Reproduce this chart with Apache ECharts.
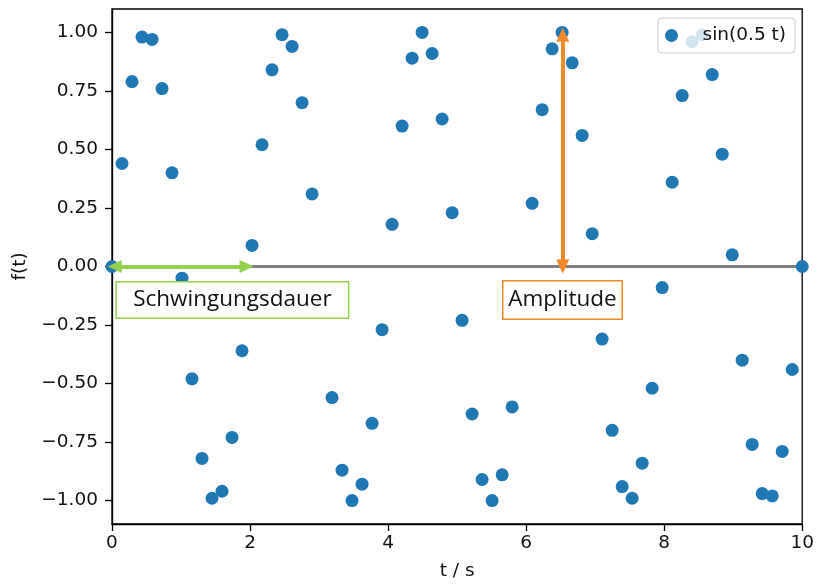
<!DOCTYPE html>
<html>
<head>
<meta charset="utf-8">
<script src="https://cdn.jsdelivr.net/npm/echarts@6/dist/echarts.min.js"></script>
<style>
  html, body { margin: 0; padding: 0; background: #fff; }
  #chart { width: 817px; height: 586px; }
</style>
</head>
<body>
<div id="chart"></div>
<script>
// Sample times (s) and measured values f(t)
const tValues = [
  0, 0.145, 0.290, 0.435, 0.580, 0.725, 0.870, 1.014, 1.159, 1.304,
  1.449, 1.594, 1.739, 1.884, 2.029, 2.174, 2.319, 2.464, 2.609, 2.754,
  2.899, 3.043, 3.188, 3.333, 3.478, 3.623, 3.768, 3.913, 4.058, 4.203,
  4.348, 4.493, 4.638, 4.783, 4.928, 5.072, 5.217, 5.362, 5.507, 5.652,
  5.797, 5.942, 6.087, 6.232, 6.377, 6.522, 6.667, 6.812, 6.957, 7.101,
  7.246, 7.391, 7.536, 7.681, 7.826, 7.971, 8.116, 8.261, 8.406, 8.551,
  8.696, 8.841, 8.986, 9.130, 9.275, 9.420, 9.565, 9.710, 9.855, 10
];
const fValues = [
  0, 0.44, 0.79, 0.98, 0.97, 0.76, 0.40, -0.05, -0.48, -0.82,
  -0.99, -0.96, -0.73, -0.36, 0.09, 0.52, 0.84, 0.99, 0.94, 0.70,
  0.31, -0.14, -0.56, -0.87, -1.00, -0.93, -0.67, -0.27, 0.18, 0.60,
  0.89, 1.00, 0.91, 0.63, 0.23, -0.23, -0.63, -0.91, -1.00, -0.89,
  -0.60, -0.18, 0.27, 0.67, 0.93, 1.00, 0.87, 0.56, 0.14, -0.31,
  -0.70, -0.94, -0.99, -0.84, -0.52, -0.09, 0.36, 0.73, 0.96, 0.99,
  0.82, 0.48, 0.05, -0.40, -0.76, -0.97, -0.98, -0.79, -0.44, 0
];
const seriesName = 'sin(0.5 t)';

// Axis ticks
const xTicks = [0, 2, 4, 6, 8, 10];
const yTicks = [-1.00, -0.75, -0.50, -0.25, 0.00, 0.25, 0.50, 0.75, 1.00];

// Annotations (data coordinates)
const zeroLine = [[0, 0], [10, 0]];
const periodArrow = [[0.04, 0], [1.95, 0]];
const amplitudeArrow = [[6.53, 0], [6.53, 0.99]];
const periodLabel = { text: 'Schwingungsdauer', at: [1.744, -0.143] };
const amplitudeLabel = { text: 'Amplitude', at: [6.527, -0.143] };

const TICK_FONT = 'DejaVu Sans';
const NOTE_FONT = 'Open Sans';
const GREEN = '#92d050';
const ORANGE = '#f28a2c';

const fmtTick = v => (v < 0 ? '\u2212' : '') + Math.abs(v).toFixed(2);

function arrowSeries(points, color) {
  return {
    type: 'line',
    data: [],
    silent: true,
    z: 5,
    markLine: {
      silent: true,
      animation: false,
      symbol: ['triangle', 'triangle'],
      symbolSize: [13, 14],
      label: { show: false },
      lineStyle: { color: color, width: 4, type: 'solid' },
      data: [[{ coord: points[0] }, { coord: points[1] }]]
    }
  };
}

// Boxed text note anchored at a data coordinate
function noteSeries(note, color, boxW, boxH) {
  return {
    type: 'scatter',
    data: [note.at],
    symbolSize: 1,
    itemStyle: { color: 'rgba(0,0,0,0)', opacity: 1 },
    silent: true,
    z: 6,
    label: {
      show: true,
      position: 'inside',
      formatter: note.text,
      fontFamily: NOTE_FONT,
      fontSize: 22.5,
      color: '#111',
      opacity: 1,
      backgroundColor: '#fff',
      borderColor: color,
      borderWidth: 1.5,
      width: boxW,
      height: boxH,
      lineHeight: boxH,
      align: 'center',
      verticalAlign: 'middle',
      padding: 0
    }
  };
}

const chart = echarts.init(document.getElementById('chart'), null, { renderer: 'canvas' });

chart.setOption({
  animation: false,
  backgroundColor: '#fff',
  grid: {
    left: 112, right: 13, top: 9, bottom: 61,
    show: true, borderColor: '#000', borderWidth: 1.3, backgroundColor: 'transparent'
  },
  legend: {
    data: [seriesName],
    right: 22, top: 18,
    orient: 'horizontal',
    icon: 'circle',
    itemWidth: 36, itemHeight: 13,
    padding: [8, 9, 8, 7],
    backgroundColor: 'rgba(255,255,255,0.8)',
    borderColor: '#cccccc', borderWidth: 1, borderRadius: 4,
    textStyle: { fontFamily: TICK_FONT, fontSize: 18.5, color: '#111', padding: [0, 0, 0, 8] },
    selectedMode: false
  },
  xAxis: {
    type: 'value',
    min: 0, max: 10, interval: 2,
    name: 't / s', nameLocation: 'middle', nameGap: 38,
    nameTextStyle: { fontFamily: TICK_FONT, fontSize: 18.5, color: '#111' },
    axisLine: { show: true, onZero: false, lineStyle: { color: '#000', width: 1.3 } },
    axisTick: { show: true, inside: false, length: 7, lineStyle: { color: '#000', width: 1.3 },
                customValues: xTicks },
    axisLabel: { fontFamily: TICK_FONT, fontSize: 18.5, color: '#111', margin: 10,
                 customValues: xTicks, formatter: v => String(v) },
    splitLine: { show: false }
  },
  yAxis: {
    type: 'value',
    min: -1.1, max: 1.1,
    name: 'f(t)', nameLocation: 'middle', nameGap: 82, nameRotate: 90,
    nameTextStyle: { fontFamily: TICK_FONT, fontSize: 18.5, color: '#111' },
    axisLine: { show: true, onZero: false, lineStyle: { color: '#000', width: 1.3 } },
    axisTick: { show: true, inside: false, length: 7, lineStyle: { color: '#000', width: 1.3 },
                customValues: yTicks },
    axisLabel: { fontFamily: TICK_FONT, fontSize: 18.5, color: '#111', margin: 14,
                 customValues: yTicks, formatter: fmtTick },
    splitLine: { show: false }
  },
  series: [
    {
      name: 'zero',
      type: 'line',
      data: zeroLine,
      symbol: 'none',
      silent: true,
      lineStyle: { color: '#808080', width: 3 },
      z: 1
    },
    {
      name: seriesName,
      type: 'scatter',
      data: tValues.map((t, i) => [t, fValues[i]]),
      symbolSize: 13,
      itemStyle: { color: '#1f77b4', opacity: 1 },
      z: 3
    },
    arrowSeries(periodArrow, GREEN),
    arrowSeries(amplitudeArrow, ORANGE),
    noteSeries(periodLabel, GREEN, 231, 35),
    noteSeries(amplitudeLabel, ORANGE, 118, 37)
  ]
});
</script>
</body>
</html>
